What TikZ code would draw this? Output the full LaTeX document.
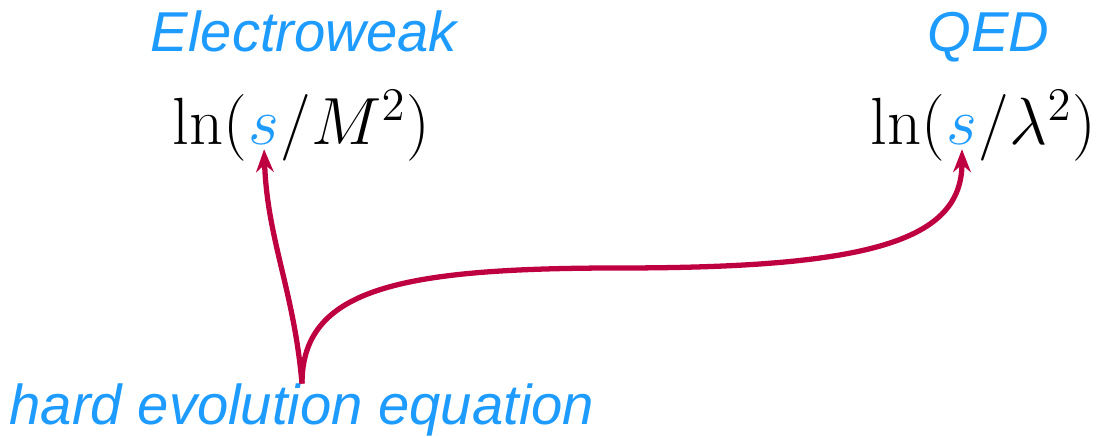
\documentclass[tikz,border=0pt]{standalone}
\usepackage{fix-cm}
\usepackage{fontspec}
\setsansfont{Liberation Sans}
\usetikzlibrary{arrows.meta}
\definecolor{ewblue}{RGB}{30,155,255}
\definecolor{arrred}{RGB}{190,0,65}
\begin{document}
\begin{tikzpicture}[
    lbl/.style={text=ewblue, font=\fontsize{16}{19}\selectfont\sffamily\itshape, inner sep=0pt, anchor=base},
    frm/.style={font=\fontsize{19}{23}\selectfont, inner sep=0pt, anchor=base west},
    arr/.style={-{Stealth[length=6.5pt, width=5pt]}, arrred, line width=1.5pt, shorten >=1pt}
  ]
    \useasboundingbox (0,0) rectangle (10.98,4.37);

    % ---- Lado izquierdo: electrodebil ----
    \node[lbl] (ew) at (3.04,3.85) {Electroweak};
    \node[frm] (lnL) at (1.72,2.92) {$\ln($};
    \node[frm, text=ewblue] (sL) at (lnL.base east) {$s$};
    \node[frm] (restL) at (sL.base east) {$/M^2)$};

    % ---- Lado derecho: QED ----
    \node[lbl] (qed) at (9.885,3.85) {QED};
    \node[frm] (lnR) at (8.70,2.92) {$\ln($};
    \node[frm, text=ewblue] (sR) at (lnR.base east) {$s$};
    \node[frm] (restR) at (sR.base east) {$/\lambda^2)$};

    % ---- Ecuacion de evolucion ----
    \node[lbl] (hee) at (3.02,0.12) {hard evolution equation};
    \coordinate (flat) at (6.2,1.69);

    % Flechas
    \draw[arr] (hee.north) to[out=95, in=-88] (sL.south);
    \draw[arr] (hee.north) .. controls +(0,0.95) and +(-2.2,0) .. (flat)
        .. controls +(2.5,0) and +(0,-0.95) .. (sR.south);
\end{tikzpicture}
\end{document}
